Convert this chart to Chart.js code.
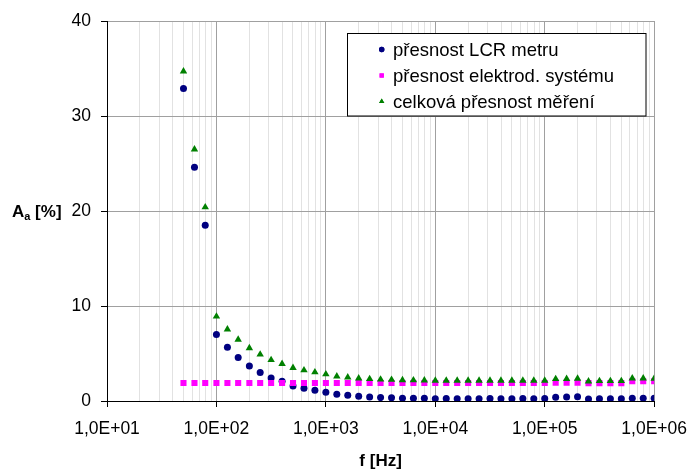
<!DOCTYPE html>
<html><head><meta charset="utf-8">
<script src="https://cdn.jsdelivr.net/npm/chart.js@4.4.1/dist/chart.umd.min.js"></script>
<style>html,body{margin:0;padding:0;background:#fff;overflow:hidden}</style>
</head><body>
<canvas id="c" width="699" height="470" style="display:block;width:699px;height:470px"></canvas>
<script>
const frequencies = [50, 63, 79, 100, 126, 158, 200, 251, 316, 398, 501, 631, 794,
  1000, 1259, 1585, 1995, 2512, 3162, 3981, 5012, 6310, 7943,
  10000, 12589, 15849, 19953, 25119, 31623, 39811, 50119, 63096, 79433,
  100000, 125893, 158489, 199526, 251189, 316228, 398107, 501187, 630957, 794328,
  1000000];
const lcrAccuracy = [32.9, 24.6, 18.5, 7.0, 5.65, 4.57, 3.68, 2.99, 2.42, 2.07, 1.58, 1.33, 1.12,
  0.92, 0.70, 0.60, 0.49, 0.42, 0.36, 0.33, 0.30, 0.29, 0.28,
  0.25, 0.26, 0.25, 0.25, 0.25, 0.26, 0.25, 0.25, 0.26, 0.25,
  0.26, 0.40, 0.42, 0.44, 0.20, 0.23, 0.23, 0.23, 0.30, 0.30,
  0.28];
const electrodeAccuracy = [1.9, 1.9, 1.9, 1.9, 1.9, 1.9, 1.9, 1.9, 1.9, 1.9, 1.9, 1.9, 1.9,
  1.9, 1.9, 1.9, 1.9, 1.9, 1.9, 1.9, 1.9, 1.9, 1.9,
  1.9, 1.9, 1.9, 1.9, 1.9, 1.9, 1.9, 1.9, 1.9, 1.9,
  1.9, 1.92, 1.92, 1.92, 1.88, 1.88, 1.88, 1.88, 2.08, 2.08,
  2.08];
const totalAccuracy = [34.7, 26.5, 20.4, 8.9, 7.55, 6.47, 5.58, 4.9, 4.32, 3.92, 3.5, 3.24, 3.03,
  2.82, 2.6, 2.5, 2.39, 2.32, 2.27, 2.24, 2.2, 2.19, 2.18,
  2.16, 2.16, 2.15, 2.16, 2.15, 2.16, 2.16, 2.15, 2.16, 2.16,
  2.16, 2.32, 2.34, 2.36, 2.08, 2.11, 2.11, 2.11, 2.38, 2.38,
  2.36];
const seriesNames = ['přesnost LCR metru', 'přesnost elektrod. systému', 'celková přesnost měření'];
const xDecades = [10, 100, 1000, 10000, 100000, 1000000];
const xDecadeLabels = ['1,0E+01', '1,0E+02', '1,0E+03', '1,0E+04', '1,0E+05', '1,0E+06'];
const yTicks = [0, 10, 20, 30, 40];
const xTitle = 'f [Hz]';
const yTitleMain = 'A', yTitleSub = 'a', yTitleRest = ' [%]';

const FONT = '"Liberation Sans", Arial, sans-serif';
const colors = ['#000080', '#FF00FF', '#008000'];
const styles = ['circle', 'rect', 'triangle'];
const radii = [3.5, 4.3, 4.3];
const seriesValues = [lcrAccuracy, electrodeAccuracy, totalAccuracy];

const datasets = seriesValues.map((vals, i) => ({
  label: seriesNames[i],
  data: frequencies.map((f, j) => ({x: f, y: vals[j]})),
  pointStyle: styles[i],
  pointRadius: radii[i],
  pointHoverRadius: radii[i],
  backgroundColor: colors[i],
  borderColor: colors[i],
  borderWidth: 0,
  showLine: false,
  order: 3 - i
}));

const overlay = {
  id: 'overlay',
  afterDraw(chart) {
    const ctx = chart.ctx;
    ctx.save();
    // Y axis title (horizontal, with subscript)
    ctx.fillStyle = '#000';
    ctx.textBaseline = 'alphabetic';
    ctx.textAlign = 'left';
    let x = 12;
    ctx.font = 'bold 17px ' + FONT;
    ctx.fillText(yTitleMain, x, 217);
    x += ctx.measureText(yTitleMain).width;
    ctx.font = 'bold 11px ' + FONT;
    ctx.fillText(yTitleSub, x, 219.5);
    x += ctx.measureText(yTitleSub).width;
    ctx.font = 'bold 17px ' + FONT;
    ctx.fillText(yTitleRest, x, 217);

    // Legend box
    const bx = 347.5, by = 33.5, bw = 298.5, bh = 82.5;
    ctx.fillStyle = '#fff';
    ctx.fillRect(bx, by, bw, bh);
    ctx.strokeStyle = '#000';
    ctx.lineWidth = 1;
    ctx.strokeRect(bx, by, bw, bh);
    const rowY = [49.5, 75.5, 101.5];
    const legR = [2.7, 3.0, 3.0];
    ctx.font = '18.5px ' + FONT;
    ctx.textBaseline = 'middle';
    for (let i = 0; i < 3; i++) {
      ctx.fillStyle = colors[i];
      ctx.strokeStyle = colors[i];
      Chart.helpers.drawPoint(ctx, {pointStyle: styles[i], radius: legR[i], borderWidth: 0, rotation: 0}, 381.7, rowY[i]);
      ctx.fill();
      ctx.fillStyle = '#000';
      ctx.fillText(seriesNames[i], 393, rowY[i] + 1);
    }
    ctx.restore();
  }
};

new Chart(document.getElementById('c'), {
  type: 'scatter',
  data: {datasets},
  plugins: [overlay],
  options: {
    responsive: false,
    animation: false,
    devicePixelRatio: 1,
    layout: {padding: {left: 67, right: 37, top: 21, bottom: 0}},
    plugins: {legend: {display: false}, tooltip: {enabled: false}},
    scales: {
      x: {
        type: 'logarithmic',
        min: 10, max: 1000000,
        afterBuildTicks(scale) {
          const t = [];
          for (let d = 0; d < xDecades.length - 1; d++) {
            for (let k = 1; k <= 9; k++) t.push({value: xDecades[d] * k});
          }
          t.push({value: xDecades[xDecades.length - 1]});
          scale.ticks = t;
        },
        afterFit(scale) { scale.height = 69; },
        ticks: {
          autoSkip: false, maxRotation: 0, minRotation: 0,
          color: '#000', padding: 12,
          font: {family: FONT, size: 17.5},
          callback(v) { const i = xDecades.indexOf(v); return i >= 0 ? xDecadeLabels[i] : ''; }
        },
        grid: {
          color: (c) => (c.tick && xDecades.includes(c.tick.value)) ? '#a0a0a0' : '#e2e2e2',
          tickColor: (c) => (c.tick && xDecades.includes(c.tick.value)) ? '#000' : 'rgba(0,0,0,0)',
          tickLength: 6,
          lineWidth: 1
        },
        border: {display: true, color: '#000', width: 1},
        title: {display: true, text: xTitle, color: '#000', font: {family: FONT, size: 17, weight: 'bold'}, padding: {top: 0, bottom: -2}}
      },
      y: {
        min: 0, max: 40,
        afterBuildTicks(scale) { scale.ticks = yTicks.map(v => ({value: v})); },
        afterFit(scale) { scale.width = 40; },
        ticks: {color: '#000', padding: 10, font: {family: FONT, size: 17.5}},
        grid: {color: '#a0a0a0', tickColor: '#000', tickLength: 6, lineWidth: 1},
        border: {display: true, color: '#000', width: 1}
      }
    }
  }
});
</script>
</body></html>
